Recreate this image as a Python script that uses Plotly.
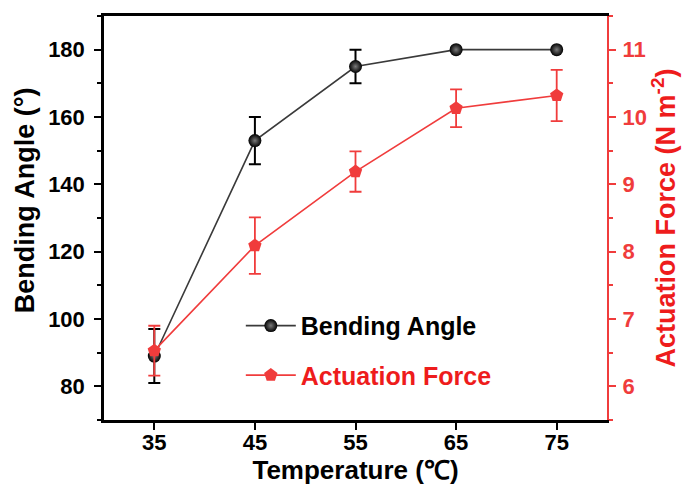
import plotly.graph_objects as go

temperature = [35, 45, 55, 65, 75]
bending_angle = [89, 153, 175, 180, 180]
bending_err = [8, 7, 5, 0, 0]
actuation_force = [6.53, 8.09, 9.19, 10.13, 10.32]
force_err = [0.37, 0.42, 0.3, 0.28, 0.38]

RED = "#f03c3c"
RED_TEXT = "#ee1c1c"
FONT = "Liberation Sans, Arial, sans-serif"

fig = go.Figure()

fig.add_trace(go.Scatter(
    x=temperature, y=bending_angle, name="<b>Bending Angle</b>",
    mode="lines+markers",
    line=dict(color="#3a3a3a", width=1.6),
    marker=dict(symbol="circle", size=13, color="#000000",
                gradient=dict(type="radial", color="#7a7a7a"),
                line=dict(width=0)),
    error_y=dict(type="data", array=bending_err, visible=True,
                 color="#000000", thickness=2, width=6),
    legendgroup="a",
))

fig.add_trace(go.Scatter(
    x=temperature, y=actuation_force,
    name="<b><span style='color:%s'>Actuation Force</span></b>" % RED_TEXT,
    mode="lines+markers", yaxis="y2",
    line=dict(color=RED, width=1.6),
    marker=dict(symbol="pentagon", size=14, color=RED, line=dict(width=0)),
    error_y=dict(type="data", array=force_err, visible=True,
                 color=RED, thickness=1.8, width=6),
    legendgroup="b",
))

fig.update_layout(
    width=682, height=486,
    margin=dict(l=104, r=75, t=16, b=66, autoexpand=False),
    paper_bgcolor="white", plot_bgcolor="white",
    font=dict(family=FONT, size=22, color="black", weight="bold"),
    showlegend=True,
    legend=dict(x=0.272, y=0.29, xanchor="left", yanchor="top",
                bgcolor="rgba(0,0,0,0)", font=dict(size=25, weight="bold"),
                itemwidth=50,
                tracegroupgap=14, traceorder="grouped"),
    xaxis=dict(
        range=[30, 80], tickvals=temperature, automargin=False,
        showline=True, linecolor="black", linewidth=2.5, mirror=True,
        ticks="outside", ticklen=7, tickwidth=2, tickcolor="black",
        ticklabelstandoff=-6,
        showgrid=False, zeroline=False,
        tickfont=dict(size=22, weight="bold"),
        title=dict(text="<b>Temperature (℃)</b>", font=dict(size=26, weight="bold"), standoff=2),
    ),
    yaxis=dict(
        range=[70, 190], tick0=80, dtick=20, automargin=False,
        showline=True, linecolor="black", linewidth=2.5,
        ticks="outside", ticklen=7, tickwidth=2, tickcolor="black",
        ticklabelstandoff=5,
        minor=dict(ticks="outside", dtick=10, tick0=80, ticklen=4, tickwidth=2, tickcolor="black"),
        showgrid=False, zeroline=False,
        tickfont=dict(size=22, weight="bold"),
    ),
    yaxis2=dict(
        range=[5.5, 11.5], tick0=6, dtick=1, automargin=False,
        overlaying="y", side="right",
        showline=True, linecolor=RED, linewidth=2,
        ticks="outside", ticklen=7, tickwidth=2, tickcolor=RED,
        ticklabelstandoff=2,
        minor=dict(ticks="outside", dtick=0.5, tick0=6, ticklen=4, tickwidth=2, tickcolor=RED),
        showgrid=False, zeroline=False,
        tickfont=dict(size=22, weight="bold", color=RED),
        title=dict(text="<b>Actuation Force (N m<sup>-2</sup>)</b>",
                   font=dict(size=27, weight="bold", color=RED_TEXT), standoff=8),
    ),
    annotations=[dict(
        text="<b>Bending Angle (°)</b>", textangle=-90,
        xref="paper", yref="paper", x=-0.157, y=0.544,
        xanchor="center", yanchor="middle", showarrow=False,
        font=dict(size=27, weight="bold", color="black"),
    )],
)

fig.write_html("out.html", config={"displayModeBar": False},
               post_script="document.body.style.margin='0';")
